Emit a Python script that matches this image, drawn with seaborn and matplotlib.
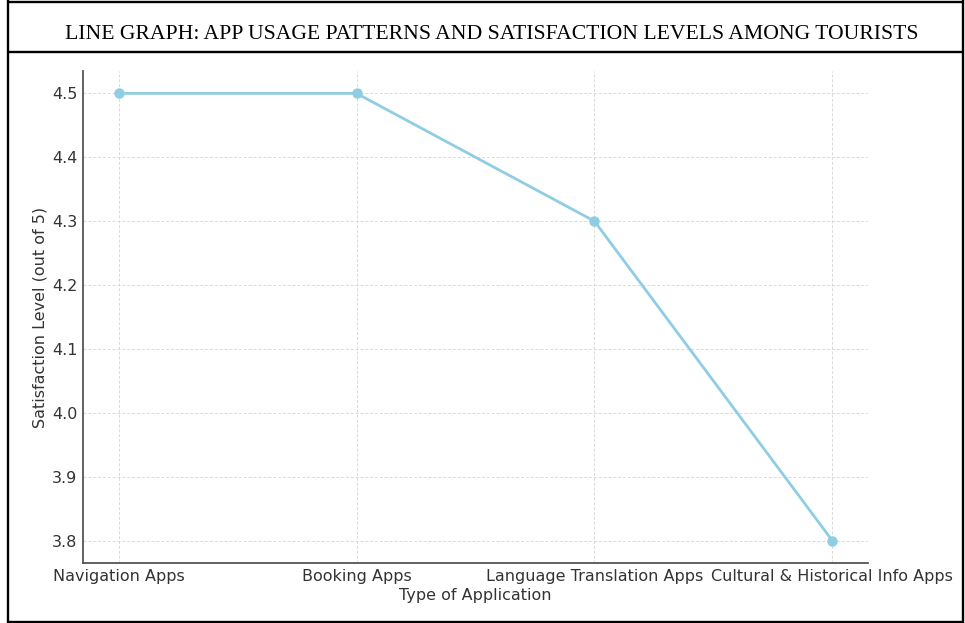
import matplotlib
matplotlib.use("Agg")
import matplotlib.pyplot as plt
from matplotlib.lines import Line2D
import seaborn as sns
import pandas as pd

app_types = ["Navigation Apps", "Booking Apps", "Language Translation Apps",
             "Cultural & Historical Info Apps"]
satisfaction = [4.5, 4.5, 4.3, 3.8]
y_ticks = [3.8, 3.9, 4.0, 4.1, 4.2, 4.3, 4.4, 4.5]

df = pd.DataFrame({"app": app_types, "score": satisfaction})

sns.set_style("white")
plt.rcParams["font.family"] = ["DejaVu Sans"]

fig = plt.figure(figsize=(9.65, 6.23), dpi=100)
ax = fig.add_axes([0.086, 0.0963, 0.8135, 0.7897])

sns.lineplot(data=df, x="app", y="score", ax=ax, sort=False, color="#8fcde3",
             linewidth=2.0, marker="o", markersize=7.5, markeredgewidth=0)

ax.set_yticks(y_ticks)
ax.set_yticklabels([f"{v:.1f}" for v in y_ticks])
ax.grid(True, linestyle=(0, (3, 2)), color="#d9d9d9", linewidth=0.7)
ax.set_axisbelow(True)
for side in ("top", "right"):
    ax.spines[side].set_visible(False)
for side in ("left", "bottom"):
    ax.spines[side].set_color("#555555")
    ax.spines[side].set_linewidth(1.3)
ax.tick_params(axis="both", direction="in", length=4, color="#555555",
               labelsize=11.5, labelcolor="#333333", pad=4)
ax.set_xlabel("Type of Application", fontsize=11.5, color="#333333", labelpad=3)
ax.set_ylabel("Satisfaction Level (out of 5)", fontsize=11.5, color="#333333",
              labelpad=3)

# framed caption band above the plot
frame = dict(transform=fig.transFigure, color="black", linewidth=1.7)
fig.add_artist(Line2D([0.0085, 0.0085], [0.0, 1.0], **frame))
fig.add_artist(Line2D([0.998, 0.998], [0.0, 1.0], **frame))
fig.add_artist(Line2D([0.0085, 0.998], [0.997, 0.997], **frame))
fig.add_artist(Line2D([0.0085, 0.998], [0.002, 0.002], **frame))
fig.add_artist(Line2D([0.0085, 0.998], [0.9165, 0.9165], **frame))
fig.text(0.51, 0.944,
         "LINE GRAPH: APP USAGE PATTERNS AND SATISFACTION LEVELS AMONG TOURISTS",
         ha="center", va="center", fontsize=15.6, color="black",
         family=["Liberation Serif"])

fig.savefig("out.png", dpi=100)
